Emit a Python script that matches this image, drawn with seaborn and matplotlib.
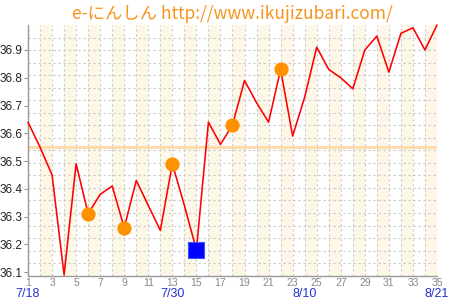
import matplotlib
matplotlib.use("Agg")
import matplotlib.pyplot as plt
import seaborn as sns
import numpy as np
import pandas as pd

# ---- data ----
days = list(range(1, 36))
temps = [36.64, 36.55, 36.45, 36.09, 36.49, 36.31, 36.38, 36.41, 36.26, 36.43,
         36.34, 36.25, 36.49, 36.34, 36.18, 36.64, 36.56, 36.63, 36.79, 36.71,
         36.64, 36.83, 36.59, 36.73, 36.91, 36.83, 36.80, 36.76, 36.90, 36.95,
         36.82, 36.96, 36.98, 36.90, 36.99]
orange_days = [6, 9, 13, 18, 22]
square_days = [15]
avg_line = 36.55
y_ticks = [36.1, 36.2, 36.3, 36.4, 36.5, 36.6, 36.7, 36.8, 36.9]
x_ticks = list(range(1, 36, 2))
date_days = [1, 13, 24, 35]
date_labels = ["7/18", "7/30", "8/10", "8/21"]
title = "e-にんしん http://www.ikujizubari.com/"

sns.set_style("white")
plt.rcParams['font.family'] = ['Liberation Sans', 'DejaVu Sans']

df = pd.DataFrame({"day": days, "temp": temps})
tmap = dict(zip(days, temps))
df_o = pd.DataFrame({"day": orange_days, "temp": [tmap[d] for d in orange_days]})
df_s = pd.DataFrame({"day": square_days, "temp": [tmap[d] for d in square_days]})

fig = plt.figure(figsize=(4.5, 3.0), dpi=100)
ax = fig.add_axes([28/450, 1 - 275.7/300, (437-28)/450, (275.7-25)/300])

ylo, yhi = 36.087, 36.99
ax.set_xlim(1, 35)
ax.set_ylim(ylo, yhi)

# alternating bands
for d in range(2, 35, 2):
    ax.axvspan(d, d + 1, color='#FDF7E8', lw=0, zorder=0)

# grid
for d in days:
    ax.axvline(d, color='#C8C8C8', lw=0.8, ls=(0, (2, 2.5)), zorder=1)
for yv in np.linspace(ylo, yhi, 21)[1:-1]:
    ax.axhline(yv, color='#C8C8C8', lw=0.8, ls=(0, (2, 2.5)), zorder=1)

ax.axhline(avg_line, color='#FFD9A6', lw=2, zorder=2)

sns.lineplot(data=df, x="day", y="temp", ax=ax, color='#FF0000', lw=1.15,
             zorder=3, clip_on=False)
sns.scatterplot(data=df_o, x="day", y="temp", ax=ax, color='#FF9100', s=105,
                edgecolor='#FF9100', linewidth=0, zorder=4, clip_on=False)
sns.scatterplot(data=df_s, x="day", y="temp", ax=ax, color='#0000FF', marker='s',
                s=125, edgecolor='#3355FF', linewidth=0.8, zorder=4, clip_on=False)

ax.set_xlabel("")
ax.set_ylabel("")
ax.set_yticks(y_ticks)
ax.set_yticklabels([f"{v:.1f}" for v in y_ticks], fontsize=8.5, color='#222222')
ax.set_xticks(x_ticks)
ax.set_xticklabels([str(v) for v in x_ticks], fontsize=7.5, color='#888888')
ax.tick_params(axis='y', length=3, width=0.8, color='#999999', pad=1, left=True)
ax.tick_params(axis='x', length=0, width=0.8, color='#999999', pad=1.5, bottom=True)

for s in ['top', 'right']:
    ax.spines[s].set_visible(False)
for s in ['left', 'bottom']:
    ax.spines[s].set_color('#999999')
    ax.spines[s].set_linewidth(1)

trans = ax.get_xaxis_transform()
for d, lab in zip(date_days, date_labels):
    ax.text(d, -0.072, lab, transform=trans, ha='center', va='center',
            fontsize=9, color='#2233CC')

fig.text(232/450, 1 - 14/300, title, ha='center', va='center', fontsize=12.5,
         color='#F7941E', family=['Noto Sans CJK JP', 'DejaVu Sans'])

fig.savefig("out.png", dpi=100)
